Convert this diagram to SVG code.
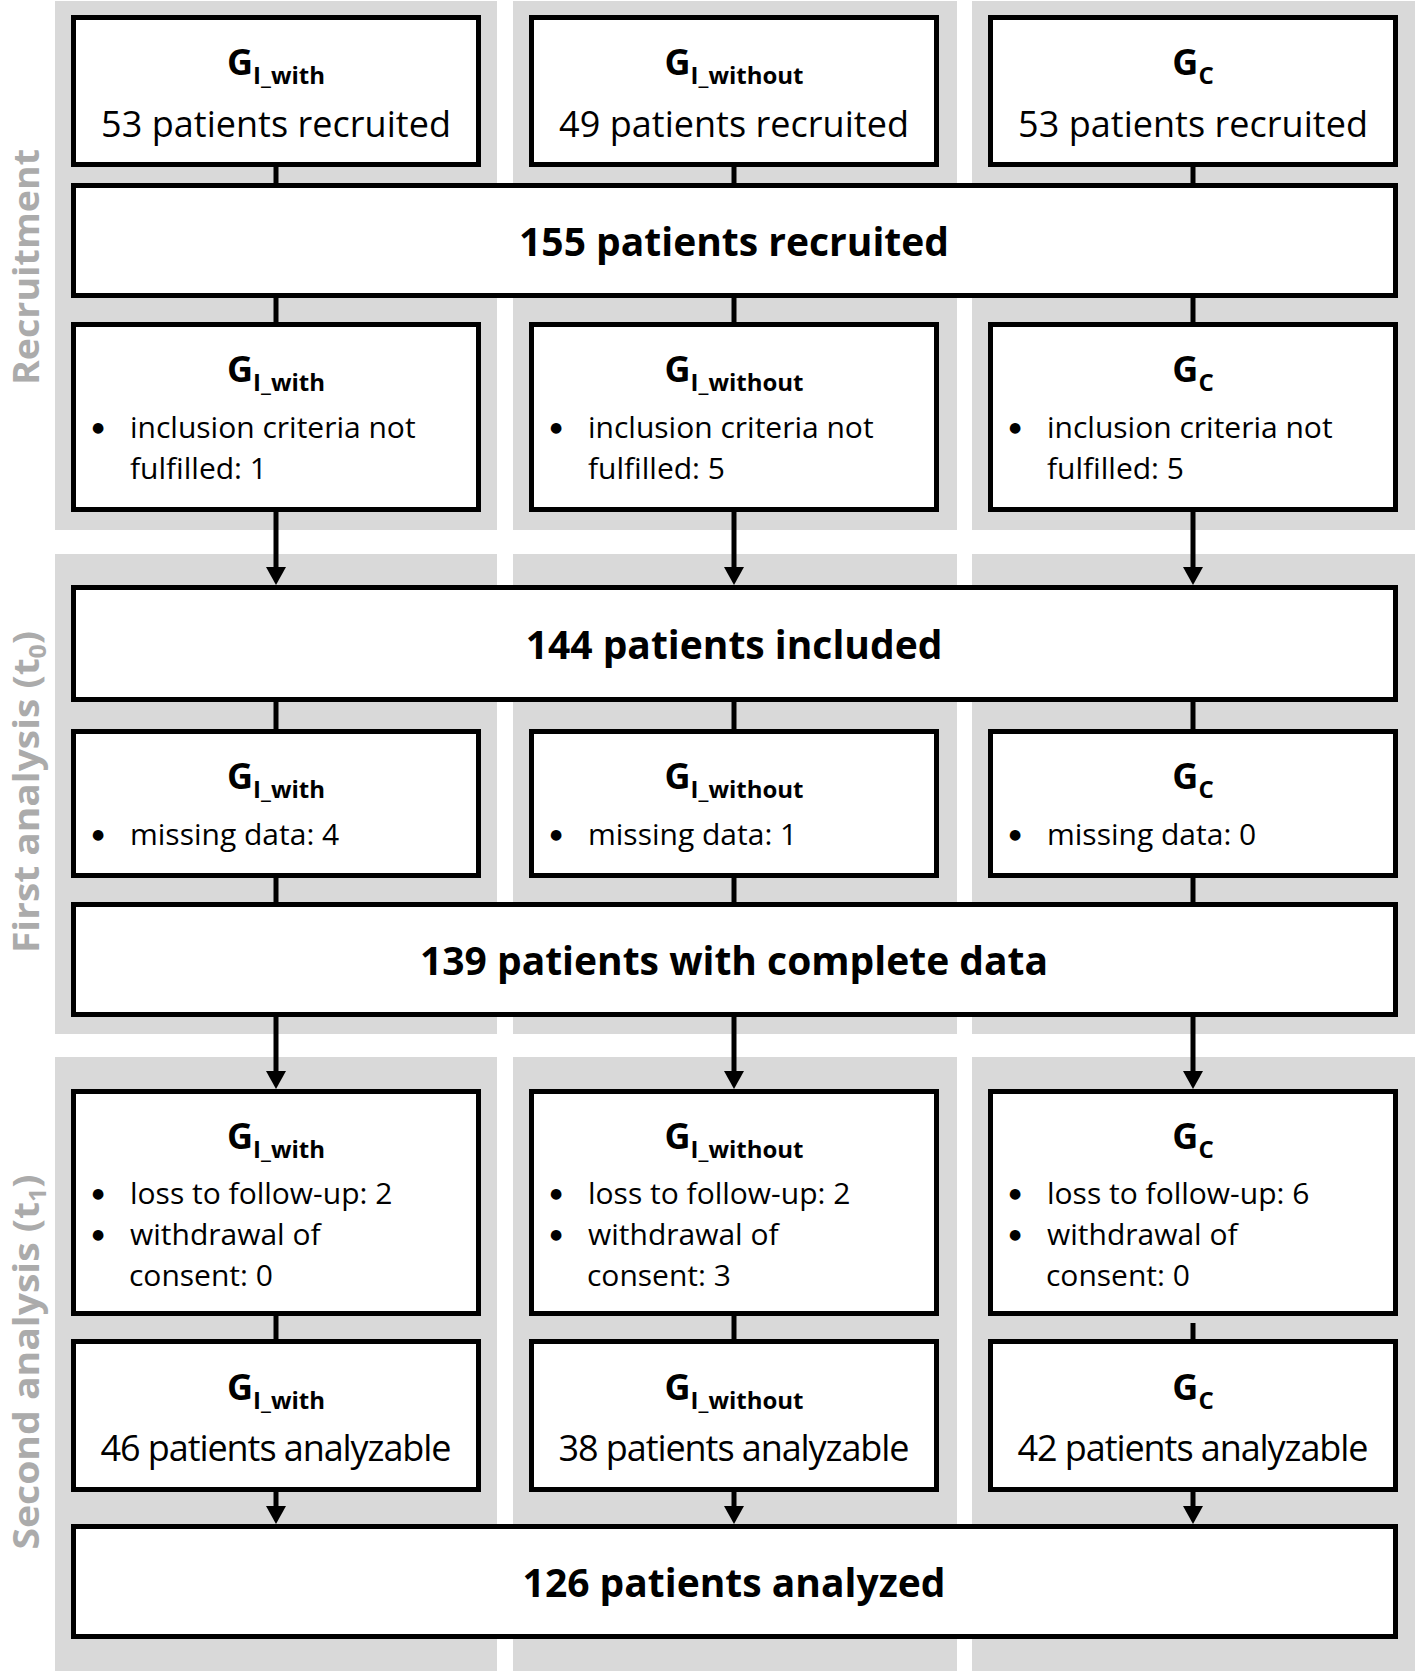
<svg xmlns="http://www.w3.org/2000/svg" width="1416" height="1673" viewBox="0 0 1416 1673">
<style>
  .panel { fill: #d9d9d9; }
  .box { fill: #ffffff; stroke: #000000; stroke-width: 5; }
  .conn { stroke: #000000; stroke-width: 5; fill: none; }
  .lbl { font-family: "Open Sans", "Noto Sans", sans-serif; font-weight: bold; font-size: 36px; fill: #ababab; text-anchor: middle; }
  .lsub { font-size: 23px; }
  .g { font-family: "Open Sans", "Noto Sans", sans-serif; font-weight: bold; font-size: 36px; fill: #000; text-anchor: middle; }
  .sub { font-size: 24px; }
  .main { font-family: "Open Sans", "Noto Sans", sans-serif; font-size: 36px; fill: #000; text-anchor: middle; }
  .big { font-family: "Open Sans", "Noto Sans", sans-serif; font-weight: bold; font-size: 39px; fill: #000; text-anchor: middle; }
  .item { font-family: "Open Sans", "Noto Sans", sans-serif; font-size: 30px; fill: #000; }
  .bul { font-family: "DejaVu Sans", sans-serif; font-size: 14px; fill: #000; text-anchor: middle; }
</style>
<defs>
  <marker id="arr" viewBox="0 0 18 20" markerWidth="18" markerHeight="20" markerUnits="userSpaceOnUse" refX="1" refY="10" orient="auto">
    <path d="M0,0 L18,10 L0,20 z" fill="#000"/>
  </marker>
</defs>
<rect width="1416" height="1673" fill="#ffffff"/>
<g id="panels">
  <rect class="panel" x="55" y="1" width="442" height="529"/>
  <rect class="panel" x="513" y="1" width="444" height="529"/>
  <rect class="panel" x="972" y="1" width="443" height="529"/>
  <rect class="panel" x="55" y="554" width="442" height="480"/>
  <rect class="panel" x="513" y="554" width="444" height="480"/>
  <rect class="panel" x="972" y="554" width="443" height="480"/>
  <rect class="panel" x="55" y="1057" width="442" height="614"/>
  <rect class="panel" x="513" y="1057" width="444" height="614"/>
  <rect class="panel" x="972" y="1057" width="443" height="614"/>
</g>
<g id="phase-labels">
  <text class="lbl" transform="translate(39,267) rotate(-90)" textLength="236" lengthAdjust="spacingAndGlyphs">Recruitment</text>
  <text class="lbl" transform="translate(39,792) rotate(-90)" textLength="322" lengthAdjust="spacingAndGlyphs">First analysis (t<tspan class="lsub" dy="7">0</tspan><tspan dy="-7">)</tspan></text>
  <text class="lbl" transform="translate(39,1362) rotate(-90)" textLength="375" lengthAdjust="spacingAndGlyphs">Second analysis (t<tspan class="lsub" dy="7">1</tspan><tspan dy="-7">)</tspan></text>
</g>
<g id="connectors">
  <line class="conn" x1="276" y1="167" x2="276" y2="183"/>
  <line class="conn" x1="734" y1="167" x2="734" y2="183"/>
  <line class="conn" x1="1193" y1="167" x2="1193" y2="183"/>
  <line class="conn" x1="276" y1="298" x2="276" y2="322"/>
  <line class="conn" x1="734" y1="298" x2="734" y2="322"/>
  <line class="conn" x1="1193" y1="298" x2="1193" y2="322"/>
  <line class="conn" x1="276" y1="512" x2="276" y2="568" marker-end="url(#arr)"/>
  <line class="conn" x1="734" y1="512" x2="734" y2="568" marker-end="url(#arr)"/>
  <line class="conn" x1="1193" y1="512" x2="1193" y2="568" marker-end="url(#arr)"/>
  <line class="conn" x1="276" y1="702" x2="276" y2="729"/>
  <line class="conn" x1="734" y1="702" x2="734" y2="729"/>
  <line class="conn" x1="1193" y1="702" x2="1193" y2="729"/>
  <line class="conn" x1="276" y1="878" x2="276" y2="902"/>
  <line class="conn" x1="734" y1="878" x2="734" y2="902"/>
  <line class="conn" x1="1193" y1="878" x2="1193" y2="902"/>
  <line class="conn" x1="276" y1="1017" x2="276" y2="1072" marker-end="url(#arr)"/>
  <line class="conn" x1="734" y1="1017" x2="734" y2="1072" marker-end="url(#arr)"/>
  <line class="conn" x1="1193" y1="1017" x2="1193" y2="1072" marker-end="url(#arr)"/>
  <line class="conn" x1="276" y1="1316" x2="276" y2="1339"/>
  <line class="conn" x1="734" y1="1316" x2="734" y2="1339"/>
  <line class="conn" x1="1193" y1="1323" x2="1193" y2="1339"/>
  <line class="conn" x1="276" y1="1492" x2="276" y2="1507" marker-end="url(#arr)"/>
  <line class="conn" x1="734" y1="1492" x2="734" y2="1507" marker-end="url(#arr)"/>
  <line class="conn" x1="1193" y1="1492" x2="1193" y2="1507" marker-end="url(#arr)"/>
</g>
<g id="rec-with">
  <rect class="box" x="73.5" y="17.5" width="405" height="147"/>
  <text class="g" x="276" y="75">G<tspan class="sub" dy="9">I_with</tspan></text>
  <text class="main" x="276" y="137" textLength="350">53 patients recruited</text>
</g>
<g id="rec-without">
  <rect class="box" x="531.5" y="17.5" width="405" height="147"/>
  <text class="g" x="734" y="75">G<tspan class="sub" dy="9">I_without</tspan></text>
  <text class="main" x="734" y="137" textLength="350">49 patients recruited</text>
</g>
<g id="rec-control">
  <rect class="box" x="990.5" y="17.5" width="405" height="147"/>
  <text class="g" x="1193" y="75">G<tspan class="sub" dy="9">C</tspan></text>
  <text class="main" x="1193" y="137" textLength="350">53 patients recruited</text>
</g>
<g id="total-recruited">
  <rect class="box" x="73.5" y="185.5" width="1322" height="110"/>
  <text class="big" x="734" y="256">155 patients recruited</text>
</g>
<g id="incl-with">
  <rect class="box" x="73.5" y="324.5" width="405" height="185"/>
  <text class="g" x="276" y="382">G<tspan class="sub" dy="9">I_with</tspan></text>
  <text class="bul" x="98" y="432">●</text>
  <text class="item" x="130" y="438">inclusion criteria not</text>
  <text class="item" x="130" y="479">fulfilled: 1</text>
</g>
<g id="incl-without">
  <rect class="box" x="531.5" y="324.5" width="405" height="185"/>
  <text class="g" x="734" y="382">G<tspan class="sub" dy="9">I_without</tspan></text>
  <text class="bul" x="556" y="432">●</text>
  <text class="item" x="588" y="438">inclusion criteria not</text>
  <text class="item" x="588" y="479">fulfilled: 5</text>
</g>
<g id="incl-control">
  <rect class="box" x="990.5" y="324.5" width="405" height="185"/>
  <text class="g" x="1193" y="382">G<tspan class="sub" dy="9">C</tspan></text>
  <text class="bul" x="1015" y="432">●</text>
  <text class="item" x="1047" y="438">inclusion criteria not</text>
  <text class="item" x="1047" y="479">fulfilled: 5</text>
</g>
<g id="included">
  <rect class="box" x="73.5" y="587.5" width="1322" height="112"/>
  <text class="big" x="734" y="659">144 patients included</text>
</g>
<g id="missing-with">
  <rect class="box" x="73.5" y="731.5" width="405" height="144"/>
  <text class="g" x="276" y="789">G<tspan class="sub" dy="9">I_with</tspan></text>
  <text class="bul" x="98" y="839">●</text>
  <text class="item" x="130" y="845">missing data: 4</text>
</g>
<g id="missing-without">
  <rect class="box" x="531.5" y="731.5" width="405" height="144"/>
  <text class="g" x="734" y="789">G<tspan class="sub" dy="9">I_without</tspan></text>
  <text class="bul" x="556" y="839">●</text>
  <text class="item" x="588" y="845">missing data: 1</text>
</g>
<g id="missing-control">
  <rect class="box" x="990.5" y="731.5" width="405" height="144"/>
  <text class="g" x="1193" y="789">G<tspan class="sub" dy="9">C</tspan></text>
  <text class="bul" x="1015" y="839">●</text>
  <text class="item" x="1047" y="845">missing data: 0</text>
</g>
<g id="complete-data">
  <rect class="box" x="73.5" y="904.5" width="1322" height="110"/>
  <text class="big" x="734" y="975">139 patients with complete data</text>
</g>
<g id="loss-with">
  <rect class="box" x="73.5" y="1091.5" width="405" height="222"/>
  <text class="g" x="276" y="1149">G<tspan class="sub" dy="9">I_with</tspan></text>
  <text class="bul" x="98" y="1198">●</text>
  <text class="item" x="130" y="1204">loss to follow-up: 2</text>
  <text class="bul" x="98" y="1239">●</text>
  <text class="item" x="130" y="1245">withdrawal of</text>
  <text class="item" x="129" y="1286">consent: 0</text>
</g>
<g id="loss-without">
  <rect class="box" x="531.5" y="1091.5" width="405" height="222"/>
  <text class="g" x="734" y="1149">G<tspan class="sub" dy="9">I_without</tspan></text>
  <text class="bul" x="556" y="1198">●</text>
  <text class="item" x="588" y="1204">loss to follow-up: 2</text>
  <text class="bul" x="556" y="1239">●</text>
  <text class="item" x="588" y="1245">withdrawal of</text>
  <text class="item" x="587" y="1286">consent: 3</text>
</g>
<g id="loss-control">
  <rect class="box" x="990.5" y="1091.5" width="405" height="222"/>
  <text class="g" x="1193" y="1149">G<tspan class="sub" dy="9">C</tspan></text>
  <text class="bul" x="1015" y="1198">●</text>
  <text class="item" x="1047" y="1204">loss to follow-up: 6</text>
  <text class="bul" x="1015" y="1239">●</text>
  <text class="item" x="1047" y="1245">withdrawal of</text>
  <text class="item" x="1046" y="1286">consent: 0</text>
</g>
<g id="analyzable-with">
  <rect class="box" x="73.5" y="1341.5" width="405" height="148"/>
  <text class="g" x="276" y="1400">G<tspan class="sub" dy="9">I_with</tspan></text>
  <text class="main" x="276" y="1461" textLength="351">46 patients analyzable</text>
</g>
<g id="analyzable-without">
  <rect class="box" x="531.5" y="1341.5" width="405" height="148"/>
  <text class="g" x="734" y="1400">G<tspan class="sub" dy="9">I_without</tspan></text>
  <text class="main" x="734" y="1461" textLength="351">38 patients analyzable</text>
</g>
<g id="analyzable-control">
  <rect class="box" x="990.5" y="1341.5" width="405" height="148"/>
  <text class="g" x="1193" y="1400">G<tspan class="sub" dy="9">C</tspan></text>
  <text class="main" x="1193" y="1461" textLength="351">42 patients analyzable</text>
</g>
<g id="analyzed">
  <rect class="box" x="73.5" y="1526.5" width="1322" height="110"/>
  <text class="big" x="734" y="1597">126 patients analyzed</text>
</g>
</svg>
